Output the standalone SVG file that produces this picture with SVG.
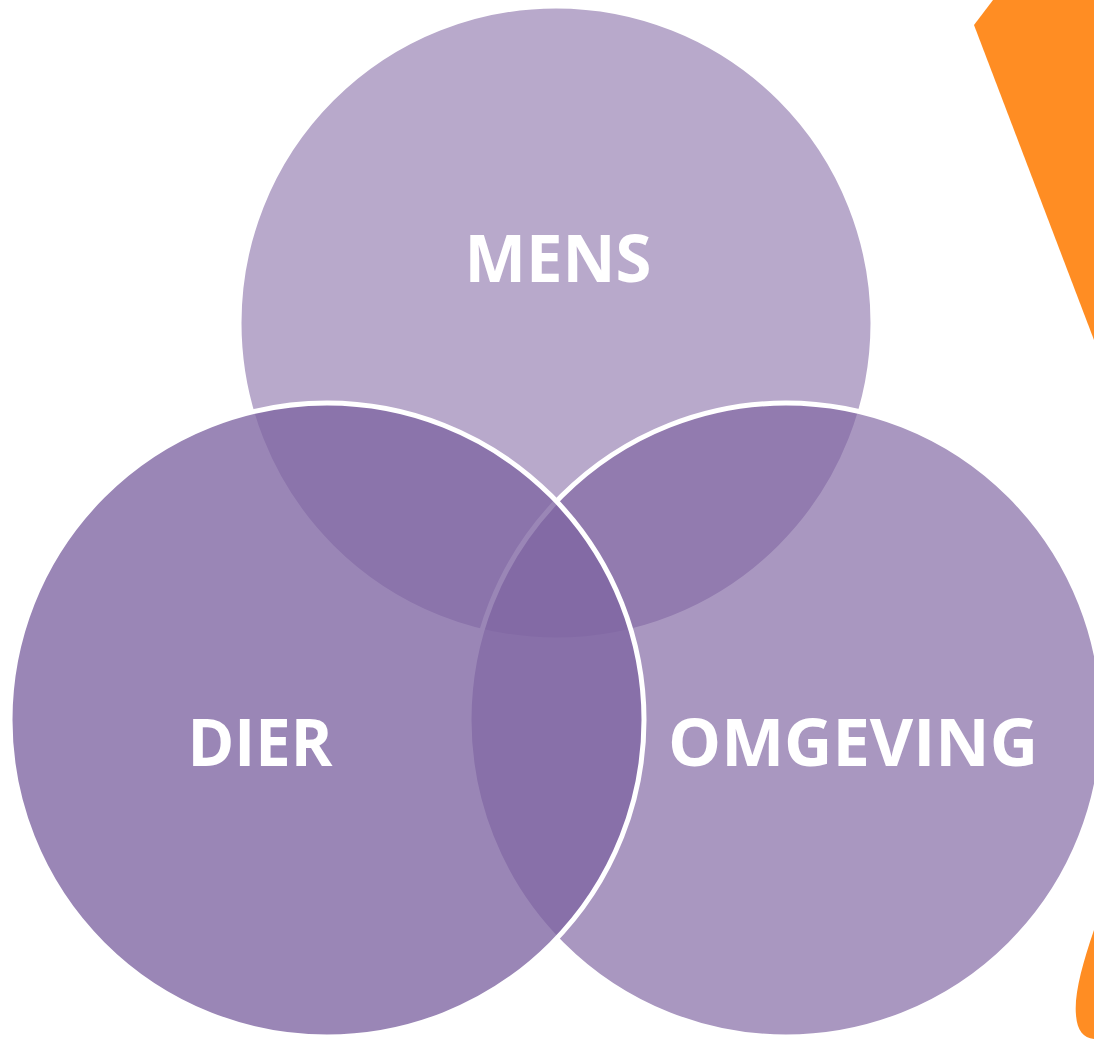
<svg xmlns="http://www.w3.org/2000/svg" width="1094" height="1039" viewBox="0 0 1094 1039">
<style>
.c{fill:#7F65A2;stroke:#FFFFFF;stroke-width:5}
.t{font-family:"Open Sans","Liberation Sans",sans-serif;font-weight:bold;fill:#FFFFFF;text-anchor:middle}
</style>
<rect width="1094" height="1039" fill="#FFFFFF"/>
<g id="decor">
<polygon points="974,25 993,0 1094,0 1094,340" fill="#FF8D23"/>
<path d="M1094,930 C1082,965 1074,995 1076,1015 C1077,1030 1083,1038 1094,1039 Z" fill="#FF8D23"/>
</g>
<g id="node-mens">
<circle class="c" cx="556" cy="323" r="317" fill-opacity="0.555"/>
</g>
<g id="node-omgeving">
<circle class="c" cx="786" cy="720" r="317" fill-opacity="0.676"/>
</g>
<g id="node-dier">
<circle class="c" cx="327" cy="720" r="317" fill-opacity="0.79"/>
</g>
<g id="labels">
<text class="t" x="558" y="282" font-size="67" textLength="187" lengthAdjust="spacingAndGlyphs">MENS</text>
<text class="t" x="260" y="766" font-size="67" textLength="145" lengthAdjust="spacingAndGlyphs">DIER</text>
<text class="t" x="853" y="766" font-size="67" textLength="370" lengthAdjust="spacingAndGlyphs">OMGEVING</text>
</g>
<g id="connectors"></g>
</svg>
